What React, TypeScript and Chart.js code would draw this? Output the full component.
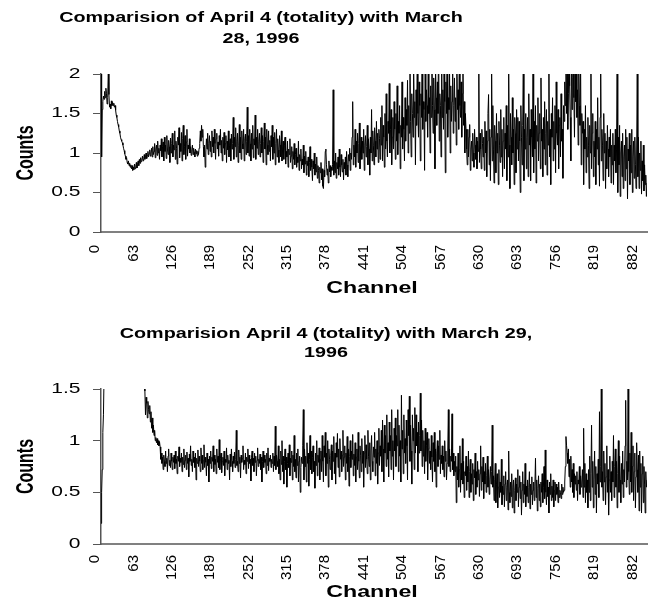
import React, { useEffect, useRef } from "react";
import { Chart, registerables } from "chart.js";

Chart.register(...registerables);

// ---------------- data ----------------
const CHANNEL_MAX = 896;
const X_TICKS = [0, 63, 126, 189, 252, 315, 378, 441, 504, 567, 630, 693, 756, 819, 882];
const TOP_Y_TICKS = [0, 0.5, 1, 1.5, 2];
const BOTTOM_Y_TICKS = [0, 0.5, 1, 1.5];
const TOP_TITLE = ["Comparision of April 4 (totality) with March", "28, 1996"];
const BOTTOM_TITLE = ["Comparision April 4 (totality) with March 29,", "1996"];
const X_TITLE = "Channel";
const Y_TITLE = "Counts";

// April 4 / March 28 counts ratio, one value per channel (0..896)
const MARCH28 = [
  2.2, 0.95, 1.55, 1.65, 1.72, 1.68, 1.78, 1.7, 1.82, 1.75, 1.62, 1.7, 2.05, 1.74, 1.58, 1.62, 1.56, 1.66, 1.6, 1.64,
  1.6, 1.63, 1.58, 1.6, 1.54, 1.48, 1.45, 1.4, 1.36, 1.33, 1.28, 1.25, 1.2, 1.17, 1.15, 1.13, 1.1, 1.06, 1.03, 0.99,
  0.96, 0.92, 0.94, 0.88, 0.86, 0.9, 0.84, 0.87, 0.82, 0.85, 0.8, 0.84, 0.78, 0.82, 0.79, 0.86, 0.8, 0.83, 0.88, 0.81,
  0.85, 0.9, 0.84, 0.92, 0.87, 0.94, 0.89, 0.91, 0.96, 0.9, 0.93, 0.98, 0.92, 0.95, 1.0, 0.93, 0.97, 1.02, 0.95, 0.99,
  1.04, 0.96, 1.0, 1.06, 0.95, 1.08, 0.98, 1.02, 1.12, 0.94, 1.05, 1.1, 0.97, 1.15, 1.0, 1.06, 0.92, 1.1, 1.03, 1.18,
  0.95, 1.08, 1.14, 0.9, 1.2, 1.02, 1.1, 0.93, 1.22, 1.05, 0.98, 1.16, 1.08, 0.88, 1.19, 1.0, 1.12, 1.25, 0.95, 1.1,
  1.04, 1.28, 0.92, 1.15, 1.06, 0.86, 1.2, 1.1, 1.32, 0.94, 1.12, 1.02, 1.26, 0.9, 1.18, 1.35, 0.98, 1.08, 1.22, 0.92,
  1.14, 1.3, 0.96, 1.1, 1.05, 1.18, 1.0, 1.08, 0.97, 1.04, 1.1, 0.98, 1.06, 1.01, 0.95, 1.05, 0.99, 1.03, 0.96, 1.02,
  0.98, 1.06, 1.12, 1.28, 1.15, 1.35, 1.2, 1.3, 1.08, 0.95, 1.1, 0.82, 1.0, 1.18, 1.05, 1.25, 0.98, 1.12, 1.22, 1.02,
  1.15, 0.95, 1.28, 1.08, 1.2, 1.0, 1.3, 1.12, 0.92, 1.18, 1.25, 1.05, 1.14, 0.96, 1.22, 1.1, 1.3, 1.0, 1.16, 0.9,
  1.2, 1.06, 1.26, 0.98, 1.12, 1.22, 0.88, 1.15, 1.04, 1.28, 0.95, 1.1, 1.18, 0.9, 1.24, 1.05, 1.12, 1.45, 0.92, 1.2,
  1.08, 1.32, 0.95, 1.15, 1.25, 0.88, 1.1, 1.36, 1.0, 1.2, 0.92, 1.28, 1.12, 1.05, 1.3, 0.9, 1.18, 1.24, 0.98, 1.15,
  1.58, 1.0, 1.22, 0.96, 1.3, 1.12, 0.9, 1.25, 1.05, 1.35, 0.94, 1.18, 1.1, 1.48, 0.92, 1.2, 1.06, 1.3, 0.98, 1.15,
  1.25, 0.95, 1.12, 1.32, 1.0, 1.22, 0.88, 1.15, 1.38, 1.05, 1.2, 0.85, 1.3, 1.1, 0.98, 1.28, 1.02, 1.16, 0.9, 1.22,
  1.08, 1.35, 0.92, 1.2, 1.0, 1.26, 0.85, 1.12, 1.3, 0.95, 1.18, 1.04, 0.88, 1.22, 1.1, 0.95, 1.28, 0.9, 1.05, 1.15,
  0.92, 1.1, 1.2, 0.86, 1.02, 0.95, 1.15, 0.82, 1.05, 0.98, 1.18, 0.88, 0.96, 1.08, 0.8, 1.02, 0.92, 1.12, 0.85, 0.98,
  1.06, 0.82, 0.95, 0.88, 1.15, 0.78, 0.98, 0.9, 1.05, 0.8, 0.92, 0.85, 1.1, 0.75, 0.96, 0.86, 1.02, 0.72, 0.9, 0.84,
  0.95, 0.7, 0.88, 1.08, 0.78, 0.92, 0.82, 0.65, 0.9, 0.8, 1.0, 0.72, 0.86, 0.76, 0.95, 0.68, 0.84, 0.78, 0.62, 0.82,
  0.75, 0.88, 0.66, 0.8, 0.58, 0.55, 0.78, 0.7, 1.02, 1.05, 0.85, 0.72, 0.8, 0.62, 0.9, 0.76, 0.84, 0.7, 0.82, 0.78,
  0.85, 1.8, 0.72, 0.9, 0.75, 1.0, 0.68, 0.88, 0.8, 0.95, 0.72, 1.05, 0.82, 0.7, 0.98, 0.85, 0.76, 0.92, 0.66, 0.88,
  0.8, 0.95, 0.72, 1.02, 0.85, 0.7, 0.98, 0.9, 1.06, 0.78, 1.0, 0.92, 1.2, 1.65, 0.85, 1.1, 0.95, 1.3, 0.82, 1.15,
  1.0, 1.25, 0.88, 1.12, 1.38, 0.8, 1.05, 1.2, 0.92, 1.15, 1.0, 1.3, 0.78, 1.1, 1.22, 0.95, 1.08, 1.35, 0.85, 1.18,
  1.05, 0.72, 1.2, 1.0, 1.55, 0.9, 1.28, 1.1, 0.85, 1.32, 1.15, 0.95, 1.4, 1.05, 1.25, 0.88, 1.3, 1.18, 0.92, 1.45,
  1.1, 1.6, 0.9, 1.35, 1.2, 0.82, 1.5, 1.05, 1.75, 1.15, 0.95, 1.4, 1.25, 1.88, 1.0, 1.3, 1.55, 0.85, 1.2, 1.45,
  1.05, 1.65, 1.3, 0.92, 1.5, 1.15, 1.85, 0.98, 1.4, 1.25, 1.6, 0.8, 1.35, 1.2, 1.9, 1.05, 1.45, 1.3, 0.9, 1.7,
  1.15, 1.55, 1.35, 1.92, 1.0, 1.6, 1.25, 2.2, 1.4, 0.95, 1.75, 1.5, 1.2, 2.1, 1.45, 1.65, 0.85, 1.8, 1.35, 2.3,
  1.5, 1.2, 1.9, 1.6, 0.9, 1.75, 1.45, 2.4, 1.3, 1.65, 1.55, 0.78, 2.05, 1.4, 1.8, 1.6, 1.2, 2.2, 1.5, 1.7,
  1.0, 1.85, 1.45, 2.3, 1.6, 1.25, 1.95, 1.55, 0.8, 2.1, 1.7, 1.35, 1.9, 1.5, 2.5, 1.15, 1.75, 1.6, 0.95, 2.2,
  1.45, 1.8, 1.3, 2.0, 1.65, 0.75, 1.9, 1.5, 2.3, 1.2, 1.7, 1.55, 2.05, 1.0, 1.85, 1.4, 1.65, 2.2, 1.25, 1.6,
  1.95, 1.4, 1.7, 1.1, 2.1, 1.55, 1.8, 1.3, 2.3, 1.6, 1.45, 1.9, 1.2, 1.75, 2.05, 1.35, 1.65, 1.0, 1.5, 1.3,
  1.05, 0.85, 1.3, 0.95, 1.2, 1.36, 0.78, 1.05, 1.15, 0.9, 1.25, 1.0, 0.82, 1.3, 1.1, 0.92, 1.2, 0.8, 1.15, 1.02,
  2.1, 0.88, 1.25, 1.05, 0.8, 1.3, 1.12, 0.95, 1.2, 0.78, 1.4, 1.0, 1.28, 0.7, 1.15, 1.5, 1.74, 0.85, 1.3, 0.65,
  1.2, 2.1, 0.9, 1.6, 1.05, 0.62, 1.35, 1.15, 0.75, 1.5, 1.0, 1.25, 0.6, 1.4, 1.1, 0.88, 1.55, 0.95, 1.3, 0.7,
  1.15, 1.45, 0.8, 1.25, 1.05, 1.6, 0.65, 1.35, 0.95, 2.1, 1.1, 0.55, 1.5, 1.2, 0.85, 1.7, 1.0, 1.3, 0.6, 1.45,
  1.25, 0.75, 1.55, 1.05, 1.45, 0.9, 1.4, 1.15, 0.5, 1.6, 1.2, 0.85, 1.35, 2.1, 0.65, 1.3, 1.05, 1.5, 0.8, 1.2,
  1.45, 0.7, 1.75, 1.1, 1.3, 0.65, 1.55, 1.2, 0.95, 2.15, 0.75, 1.4, 1.05, 1.6, 0.62, 1.35, 1.15, 1.7, 0.9, 1.25,
  1.5, 0.8, 1.95, 1.15, 1.3, 0.7, 1.45, 1.05, 1.65, 0.85, 1.25, 1.55, 0.72, 1.4, 1.1, 2.2, 0.95, 1.3, 0.6, 1.5,
  1.2, 1.7, 0.9, 1.4, 1.05, 1.6, 0.75, 1.9, 1.25, 1.1, 1.55, 0.8, 1.35, 1.45, 0.95, 1.75, 1.15, 1.3, 0.68, 1.6,
  1.4, 1.9, 1.6, 2.3, 1.5, 2.1, 1.3, 1.75, 2.5, 1.85, 1.45, 0.9, 2.2, 1.55, 1.95, 2.4, 1.7, 1.2, 2.0, 1.65,
  2.3, 1.45, 1.8, 1.1, 2.1, 1.6, 1.35, 2.2, 0.85, 1.5, 1.25, 1.4, 0.6, 1.3, 1.05, 1.6, 0.75, 1.2, 0.95, 1.45,
  1.1, 0.55, 1.35, 1.0, 2.1, 0.8, 1.25, 1.5, 0.7, 1.15, 0.95, 1.4, 0.6, 1.3, 1.05, 1.7, 0.85, 1.2, 0.58, 1.45,
  2.05, 0.9, 1.3, 1.1, 0.65, 1.5, 1.0, 1.25, 0.55, 1.15, 0.8, 1.35, 1.05, 0.7, 1.2, 0.95, 1.3, 0.62, 1.1, 0.85,
  1.25, 0.6, 1.1, 0.9, 1.3, 0.75, 1.05, 2.1, 0.5, 1.2, 0.85, 1.35, 0.45, 1.0, 1.15, 0.7, 1.25, 0.55, 0.95, 1.1,
  0.65, 1.3, 0.8, 1.2, 0.42, 1.05, 0.9, 1.25, 0.6, 1.1, 0.75, 1.3, 0.5, 0.95, 1.15, 0.68, 1.2, 0.85, 0.55, 1.0,
  2.05, 0.7, 1.2, 0.55, 1.0, 0.78, 1.15, 0.48, 0.9, 0.65, 1.1, 0.52, 0.85, 0.6, 0.72, 0.45, 0.62,
];

// April 4 / March 29 counts ratio, one value per channel (0..896)
const MARCH29 = [
  0.2, 0.5, 0.72, 1.08, 1.25, 1.62, 2.1, 2.4, 2.8, 3.0, 3.3, 3.1, 3.5, 3.4, 3.6, 3.2, 3.5, 3.3, 3.4, 3.0,
  3.2, 2.9, 3.1, 3.0, 2.8, 2.95, 2.7, 2.85, 2.6, 2.75, 2.5, 2.6, 2.45, 2.55, 2.4, 2.35, 2.3, 2.4, 2.25, 2.2,
  2.15, 2.2, 2.05, 2.1, 2.0, 1.95, 2.02, 1.9, 1.92, 1.85, 1.88, 1.8, 1.82, 1.76, 1.78, 1.72, 1.74, 1.7, 1.68, 1.66,
  1.64, 1.67, 1.6, 1.62, 1.58, 1.6, 1.56, 1.57, 1.53, 1.55, 1.52, 1.54, 1.48, 1.25, 1.42, 1.36, 1.22, 1.38, 1.3, 1.26,
  1.34, 1.18, 1.28, 1.12, 1.22, 1.08, 1.15, 1.05, 1.1, 1.0, 1.03, 0.98, 1.02, 0.96, 1.0, 0.95, 0.99, 0.94, 0.82, 0.88,
  0.78, 0.84, 0.72, 0.86, 0.8, 0.75, 0.9, 0.78, 0.83, 0.7, 0.85, 0.92, 0.76, 0.81, 0.74, 0.88, 0.8, 0.72, 0.84, 0.79,
  0.86, 0.73, 0.9, 0.78, 0.82, 0.68, 0.85, 0.8, 0.94, 0.75, 0.83, 0.79, 0.88, 0.7, 0.84, 0.77, 0.92, 0.74, 0.81, 0.86,
  0.72, 0.89, 0.78, 0.83, 0.65, 0.87, 0.8, 0.95, 0.76, 0.82, 0.7, 0.9, 0.79, 0.84, 0.74, 0.88, 0.62, 0.83, 0.78, 0.91,
  0.75, 0.85, 0.8, 0.7, 0.93, 0.78, 0.86, 0.72, 0.81, 0.96, 0.74, 0.84, 0.79, 0.66, 0.88, 0.76, 0.82, 0.6, 0.85, 0.78,
  0.9, 0.73, 0.84, 0.8, 0.95, 0.7, 0.86, 0.77, 0.82, 0.68, 0.92, 0.79, 0.85, 0.74, 1.01, 0.72, 0.83, 0.88, 0.69, 0.8,
  0.84, 0.76, 0.9, 0.66, 0.82, 0.79, 0.93, 0.72, 0.86, 0.78, 0.81, 0.62, 0.87, 0.75, 0.92, 0.8, 0.7, 0.85, 0.78, 0.89,
  0.74, 0.82, 1.1, 0.76, 0.8, 0.7, 0.91, 0.78, 0.84, 0.64, 0.86, 0.79, 0.83, 0.95, 0.72, 0.81, 0.77, 0.88, 0.68, 0.84,
  0.8, 0.92, 0.73, 0.86, 0.78, 0.82, 0.61, 0.84, 0.9, 0.76, 0.83, 0.7, 0.88, 0.79, 0.85, 0.66, 0.81, 0.93, 0.75, 0.82,
  0.78, 0.87, 0.72, 0.84, 0.6, 0.8, 0.9, 0.74, 0.86, 0.79, 0.82, 0.68, 0.88, 0.76, 0.93, 0.71, 0.83, 0.8, 0.86, 0.74,
  0.82, 0.78, 0.88, 0.7, 0.85, 0.76, 1.14, 0.72, 0.86, 0.8, 0.75, 0.95, 0.68, 0.82, 0.62, 0.9, 0.77, 1.0, 0.7, 0.85,
  0.58, 0.8, 0.92, 0.72, 0.84, 0.55, 0.78, 0.88, 0.74, 0.96, 0.66, 0.83, 0.79, 0.9, 0.62, 0.86, 0.75, 1.05, 0.7, 0.82,
  0.64, 0.88, 0.76, 0.92, 0.6, 0.8, 0.85, 0.5, 0.74, 0.84, 0.78, 0.95, 1.3, 0.62, 0.92, 0.75, 0.85, 0.6, 0.98, 0.78,
  0.88, 0.56, 0.82, 1.05, 0.72, 0.9, 0.68, 0.84, 0.95, 0.7, 0.8, 0.54, 0.88, 0.76, 1.0, 0.66, 0.86, 0.79, 0.93, 0.62,
  0.82, 0.9, 0.7, 1.05, 0.8, 0.6, 0.95, 0.84, 1.08, 0.66, 0.88, 0.78, 1.0, 0.55, 0.92, 0.82, 0.72, 0.86, 0.96, 0.62,
  0.9, 0.8, 1.04, 0.68, 0.88, 0.58, 0.98, 0.84, 1.07, 0.74, 0.92, 0.65, 1.02, 0.82, 0.9, 0.7, 0.86, 1.1, 0.75, 0.84,
  0.95, 0.62, 0.88, 0.78, 1.04, 0.7, 0.92, 0.56, 0.85, 1.0, 0.74, 0.9, 0.82, 1.06, 0.66, 0.87, 0.76, 0.98, 0.6, 0.84,
  0.92, 0.72, 1.08, 0.8, 0.64, 0.95, 0.86, 0.7, 1.02, 0.78, 0.9, 0.55, 0.88, 1.05, 0.74, 0.96, 0.82, 0.68, 1.1, 0.85,
  0.75, 0.98, 0.62, 0.9, 1.05, 0.8, 0.7, 0.94, 0.84, 1.08, 0.66, 0.92, 0.78, 1.0, 0.58, 0.88, 1.12, 0.76, 0.95, 0.85,
  1.1, 0.7, 1.2, 0.92, 0.6, 1.15, 0.88, 1.05, 0.75, 1.25, 0.82, 0.98, 0.65, 1.18, 0.9, 1.05, 0.72, 1.3, 0.85, 1.0,
  0.62, 1.12, 0.9, 1.22, 0.75, 1.05, 0.95, 1.3, 0.7, 1.15, 0.85, 1.0, 0.6, 1.44, 0.92, 1.1, 0.68, 1.25, 0.88, 1.02,
  0.78, 1.2, 0.95, 0.62, 1.3, 1.05, 1.43, 0.8, 1.15, 0.9, 0.58, 1.25, 1.0, 1.12, 0.72, 1.32, 0.88, 1.25, 0.95, 1.08,
  0.7, 1.18, 0.88, 1.05, 1.46, 0.9, 1.2, 0.75, 1.1, 0.85, 1.0, 0.68, 1.12, 0.8, 0.95, 1.08, 0.62, 0.92, 1.02, 0.78,
  0.9, 0.72, 1.05, 0.84, 0.6, 0.98, 0.8, 1.08, 0.7, 0.92, 0.55, 0.88, 1.0, 0.75, 0.95, 0.82, 1.1, 0.68, 0.86, 0.78,
  0.95, 0.72, 0.85, 0.65, 1.0, 0.8, 0.9, 0.62, 0.78, 0.88, 1.3, 0.75, 0.92, 0.7, 0.85, 0.8, 1.26, 0.72, 0.88, 0.66,
  0.8, 0.7, 0.85, 0.4, 0.75, 0.62, 0.88, 0.55, 0.72, 0.95, 0.5, 0.78, 0.62, 1.02, 0.58, 0.8, 0.45, 0.7, 0.66, 0.85,
  0.52, 0.75, 0.6, 0.9, 0.45, 0.7, 0.82, 0.5, 0.68, 0.58, 0.78, 0.42, 0.72, 0.64, 0.88, 0.48, 0.7, 0.55, 0.8, 0.62,
  0.72, 0.46, 0.68, 0.95, 0.52, 0.75, 0.6, 0.84, 0.44, 0.7, 0.58, 0.78, 0.5, 0.66, 0.85, 0.55, 0.72, 0.48, 0.62, 0.75,
  0.58, 0.7, 1.15, 0.55, 0.66, 0.42, 0.62, 0.78, 0.4, 0.58, 0.68, 0.35, 0.55, 0.72, 0.45, 0.6, 0.5, 0.82, 0.38, 0.56,
  0.48, 0.66, 0.36, 0.58, 0.7, 0.42, 0.55, 0.62, 0.33, 0.9, 0.5, 0.4, 0.6, 0.46, 0.68, 0.35, 0.55, 0.62, 0.3, 0.52,
  0.64, 0.42, 0.58, 0.5, 0.72, 0.36, 0.55, 0.66, 0.44, 0.6, 0.28, 0.52, 0.7, 0.4, 0.58, 0.48, 0.78, 0.36, 0.56, 0.46,
  0.62, 0.4, 0.55, 0.7, 0.34, 0.58, 0.48, 0.65, 0.38, 0.52, 0.6, 0.42, 0.56, 0.83, 0.45, 0.62, 0.32, 0.54, 0.66, 0.42,
  0.58, 0.36, 0.6, 0.5, 0.68, 0.4, 0.55, 0.75, 0.44, 0.91, 0.5, 0.38, 0.62, 0.46, 0.55, 0.3, 0.6, 0.48, 0.68, 0.42,
  0.56, 0.45, 0.62, 0.36, 0.52, 0.6, 0.42, 0.58, 0.48, 0.55, 0.4, 0.6, 0.45, 0.52, 0.5, 0.44, 0.58, 0.48, 0.55, 0.5,
  0.52, 0.6, 0.75, 1.04, 0.95, 0.88, 0.78, 0.92, 0.65, 0.82, 0.55, 0.85, 0.6, 0.72, 0.5, 0.78, 0.45, 0.68, 0.58, 0.66,
  0.52, 0.7, 0.42, 0.62, 0.58, 0.75, 0.48, 0.66, 0.55, 0.6, 0.72, 0.45, 1.12, 0.55, 0.78, 0.4, 0.68, 0.5, 0.62, 0.35,
  0.72, 0.5, 0.85, 0.42, 0.68, 1.15, 0.55, 0.8, 0.35, 0.62, 0.9, 0.48, 0.75, 0.3, 0.68, 0.58, 0.82, 0.45, 1.28, 0.6,
  0.75, 1.52, 0.55, 0.7, 0.42, 0.9, 0.6, 0.78, 0.38, 0.65, 0.95, 0.5, 0.72, 0.28, 0.62, 0.85, 0.5, 0.7, 0.42, 0.8,
  0.6, 1.05, 0.45, 0.75, 0.92, 0.55, 0.8, 0.35, 0.68, 1.0, 0.5, 0.85, 0.62, 0.4, 0.78, 0.58, 0.9, 0.45, 0.72, 0.6,
  0.95, 1.39, 0.55, 0.8, 0.62, 1.52, 0.7, 0.48, 0.88, 0.6, 1.08, 0.5, 0.75, 0.95, 0.42, 0.7, 0.88, 0.35, 0.65, 0.98,
  0.72, 0.5, 0.86, 0.32, 0.9, 0.55, 0.78, 0.3, 0.68, 0.85, 0.4, 0.75, 0.58, 0.3, 0.7, 0.55, 0.62,
];

// ---------------- styling ----------------
const FONT = '"Liberation Sans", Arial, Helvetica, sans-serif';
const TITLE_SX = 1.41;
const TICK_SX = 1.5;
const AXIS_TITLE_SX = 1.45;

type PanelCfg = {
  values: number[];
  yMax: number;
  yTicks: number[];
  title: string[];
  titleX: number;
  titleBaselines: number[];
  height: number;
  top: number;
  padTop: number;
  padBottom: number;
  xLabelTop: number;
  xTitleBaseline: number;
};

function drawStretched(ctx: CanvasRenderingContext2D, text: string, x: number, y: number, sx: number) {
  ctx.save();
  ctx.translate(x, y);
  ctx.scale(sx, 1);
  ctx.fillText(text, 0, 0);
  ctx.restore();
}

function makeTextPlugin(cfg: PanelCfg) {
  return {
    id: "excelText",
    afterDraw(chart: any) {
      const ctx: CanvasRenderingContext2D = chart.ctx;
      const area = chart.chartArea;
      const xs = chart.scales.x;
      const ys = chart.scales.y;
      ctx.save();
      ctx.fillStyle = "#000";

      // chart title
      ctx.font = `bold 14px ${FONT}`;
      ctx.textAlign = "center";
      ctx.textBaseline = "alphabetic";
      cfg.title.forEach((line, k) => drawStretched(ctx, line, cfg.titleX, cfg.titleBaselines[k], TITLE_SX));

      // y tick labels
      ctx.font = `14px ${FONT}`;
      ctx.textAlign = "right";
      ctx.textBaseline = "middle";
      cfg.yTicks.forEach((v) => drawStretched(ctx, String(v), 80.5, ys.getPixelForValue(v), TICK_SX));

      // x tick labels (rotated)
      ctx.font = `15px ${FONT}`;
      ctx.textAlign = "right";
      ctx.textBaseline = "middle";
      X_TICKS.forEach((v) => {
        ctx.save();
        ctx.translate(xs.getPixelForValue(v) - 6, cfg.xLabelTop);
        ctx.rotate(-Math.PI / 2);
        ctx.fillText(String(v), 0, 0);
        ctx.restore();
      });

      // x axis title
      ctx.font = `bold 16px ${FONT}`;
      ctx.textAlign = "center";
      ctx.textBaseline = "alphabetic";
      drawStretched(ctx, X_TITLE, (area.left + area.right) / 2 - 2, cfg.xTitleBaseline, AXIS_TITLE_SX);

      // y axis title (rotated)
      ctx.save();
      ctx.translate(33, (area.top + area.bottom) / 2);
      ctx.rotate(-Math.PI / 2);
      ctx.scale(1, AXIS_TITLE_SX);
      ctx.textAlign = "center";
      ctx.textBaseline = "alphabetic";
      ctx.fillText(Y_TITLE, 0, 0);
      ctx.restore();

      ctx.restore();
    },
  };
}

function Panel({ cfg }: { cfg: PanelCfg }) {
  const ref = useRef<HTMLCanvasElement | null>(null);
  useEffect(() => {
    if (!ref.current) return;
    const chart = new Chart(ref.current, {
      type: "line",
      data: {
        datasets: [
          {
            data: cfg.values.map((v, ch) => ({ x: ch, y: v })),
            borderColor: "#000",
            borderWidth: 1,
            pointRadius: 0,
            tension: 0,
            fill: false,
          },
        ],
      },
      options: {
        responsive: false,
        animation: false,
        devicePixelRatio: 1,
        layout: { padding: { left: 101, right: 6, top: cfg.padTop, bottom: cfg.padBottom } },
        plugins: { legend: { display: false }, tooltip: { enabled: false }, title: { display: false } },
        scales: {
          x: {
            type: "linear",
            min: 0,
            max: CHANNEL_MAX,
            ticks: { display: false, stepSize: 63 },
            grid: { display: false },
            border: { display: true, color: "#808080", width: 2 },
            afterFit: (s: any) => {
              s.height = 0;
            },
          },
          y: {
            type: "linear",
            min: 0,
            max: cfg.yMax,
            ticks: { display: false, stepSize: 0.5 },
            grid: { display: true, drawOnChartArea: false, drawTicks: true, tickLength: 8, color: "#555", lineWidth: 1 },
            border: { display: true, color: "#555", width: 1.5 },
            afterFit: (s: any) => {
              s.width = 0;
            },
          },
        },
      },
      plugins: [makeTextPlugin(cfg)],
    } as any);
    return () => chart.destroy();
  }, [cfg]);
  return (
    <canvas
      ref={ref}
      width={653}
      height={cfg.height}
      style={{ position: "absolute", left: 0, top: cfg.top, width: 653, height: cfg.height, display: "block" }}
    />
  );
}

const TOP_PANEL: PanelCfg = {
  values: MARCH28,
  yMax: 2,
  yTicks: TOP_Y_TICKS,
  title: TOP_TITLE,
  titleX: 261,
  titleBaselines: [22, 43],
  height: 305,
  top: 0,
  padTop: 74,
  padBottom: 73,
  xLabelTop: 245,
  xTitleBaseline: 293,
};

const BOTTOM_PANEL: PanelCfg = {
  values: MARCH29,
  yMax: 1.5,
  yTicks: BOTTOM_Y_TICKS,
  title: BOTTOM_TITLE,
  titleX: 326,
  titleBaselines: [32.5, 51.5],
  height: 306,
  top: 305,
  padTop: 84,
  padBottom: 67,
  xLabelTop: 250,
  xTitleBaseline: 292,
};

export default function App() {
  return (
    <div style={{ position: "absolute", left: 0, top: 0, width: 653, height: 611, background: "#fff", overflow: "hidden" }}>
      <Panel cfg={TOP_PANEL} />
      <Panel cfg={BOTTOM_PANEL} />
    </div>
  );
}
